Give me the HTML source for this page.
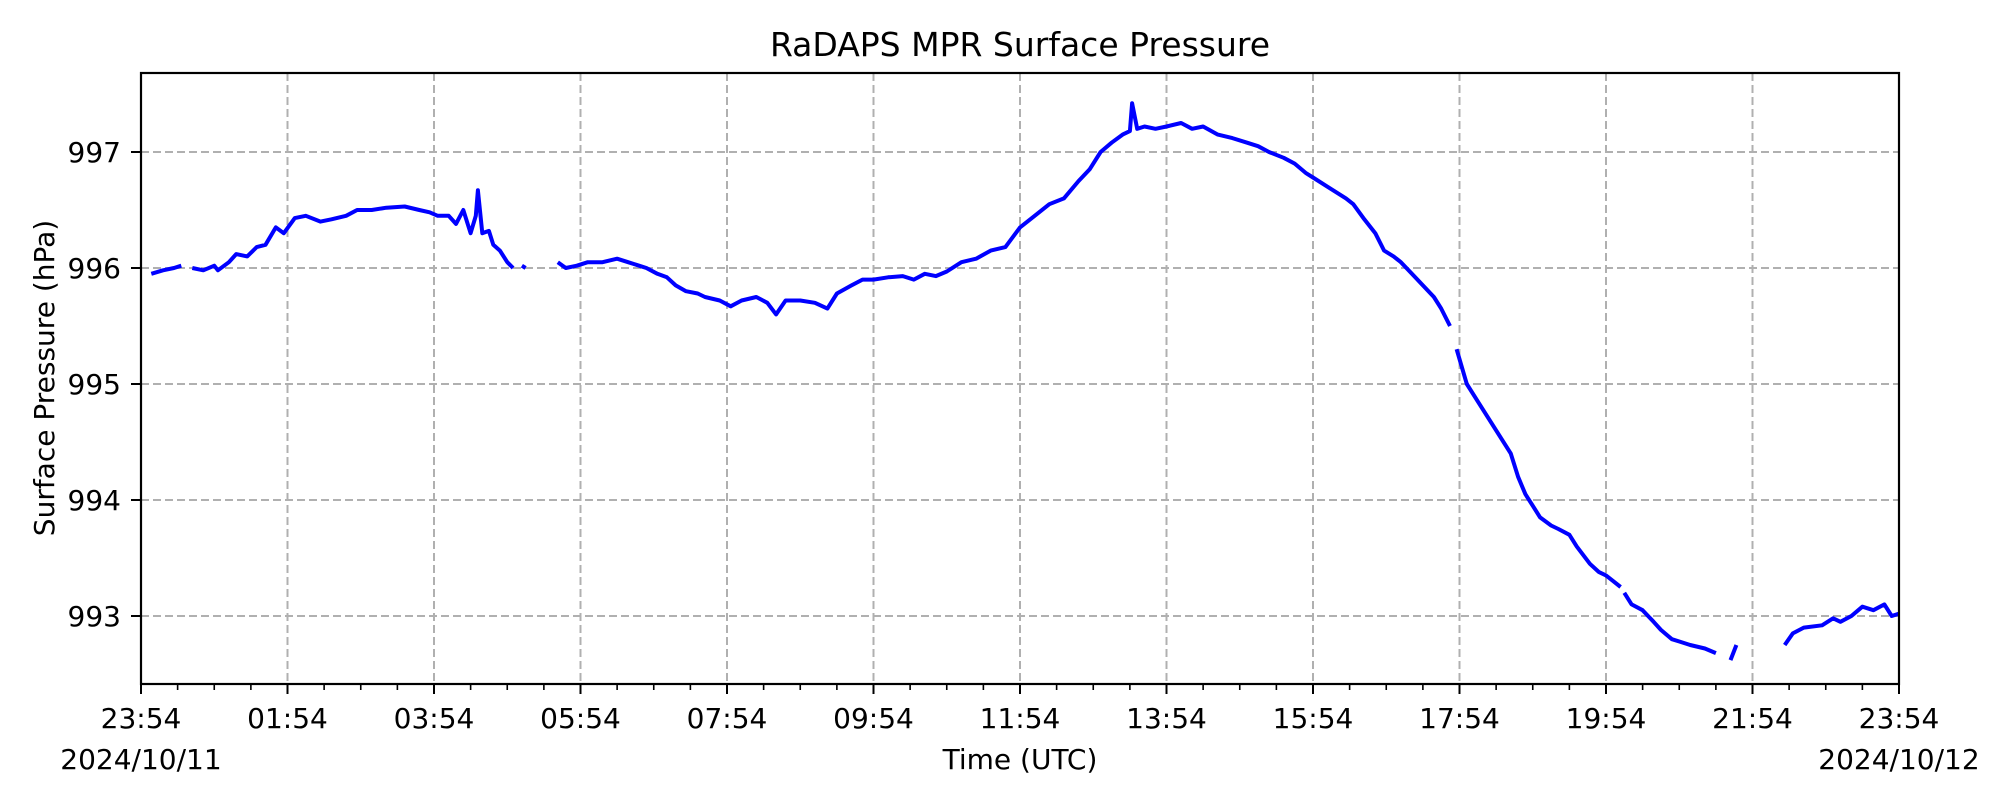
<!DOCTYPE html>
<html><head><meta charset="utf-8"><style>
body{margin:0;background:#fff;}
svg{display:block;font-family:"DejaVu Sans","Liberation Sans",sans-serif;}
</style></head><body>
<svg id="chart" width="2000" height="800" viewBox="0 0 2000 800" xmlns="http://www.w3.org/2000/svg">
<rect x="0" y="0" width="2000" height="800" fill="#fff"/>
<text x="1020" y="56" font-size="33" text-anchor="middle" fill="#000">RaDAPS MPR Surface Pressure</text>
<g id="grid"></g>
<g id="series"></g>
<rect x="141" y="73" width="1758" height="611" fill="none" stroke="#000" stroke-width="2.2"/>
<g id="ticks"></g>
<text x="1020" y="769" font-size="28" text-anchor="middle">Time (UTC)</text>
<text x="141" y="769" font-size="28" text-anchor="middle">2024/10/11</text>
<text x="1899" y="769" font-size="28" text-anchor="middle">2024/10/12</text>
<text x="54" y="378" font-size="28" text-anchor="middle" transform="rotate(-90 54 378)">Surface Pressure (hPa)</text>
</svg>
<script>
const xTickLabels=["23:54","01:54","03:54","05:54","07:54","09:54","11:54","13:54","15:54","17:54","19:54","21:54","23:54"];
const yTicks=[993,994,995,996,997];
// hours since 23:54 ; null = gap
const hours=[0.14,0.3,0.45,0.55,null,0.7,0.85,1.0,1.05,1.2,1.3,1.45,1.58,1.7,1.84,1.95,2.1,2.25,2.45,2.6,2.8,2.95,3.15,3.35,3.6,3.8,3.94,4.05,4.2,4.3,4.4,4.5,4.57,4.6,4.66,4.75,4.81,4.9,5.0,5.08,null,5.2,5.25,null,5.69,5.8,5.95,6.1,6.3,6.5,6.65,6.8,6.9,7.05,7.18,7.3,7.44,7.6,7.7,7.9,8.05,8.2,8.4,8.55,8.67,8.8,9.0,9.2,9.37,9.5,9.7,9.85,10.0,10.2,10.4,10.55,10.7,10.85,11.0,11.2,11.4,11.6,11.8,12.0,12.2,12.4,12.6,12.8,12.95,13.1,13.25,13.4,13.5,13.53,13.6,13.7,13.85,14.0,14.2,14.35,14.5,14.7,14.9,15.1,15.25,15.4,15.6,15.75,15.9,16.0,16.2,16.45,16.55,16.7,16.85,16.97,17.1,17.2,17.35,17.5,17.65,17.75,17.87,null,17.96,18.1,18.25,18.4,18.55,18.7,18.8,18.9,19.0,19.1,19.25,19.35,19.5,19.6,19.78,19.9,20.0,20.1,20.2,null,20.25,20.35,20.5,20.65,20.75,20.9,21.0,21.15,21.35,21.5,null,21.7,21.78,null,22.44,22.55,22.7,22.95,23.1,23.2,23.35,23.5,23.65,23.8,23.9,24.0];
const pressure=[995.95,995.98,996.0,996.02,null,996.0,995.98,996.02,995.98,996.05,996.12,996.1,996.18,996.2,996.35,996.3,996.43,996.45,996.4,996.42,996.45,996.5,996.5,996.52,996.53,996.5,996.48,996.45,996.45,996.38,996.5,996.3,996.45,996.67,996.3,996.32,996.2,996.15,996.05,996.0,null,996.02,996.0,null,996.05,996.0,996.02,996.05,996.05,996.08,996.05,996.02,996.0,995.95,995.92,995.85,995.8,995.78,995.75,995.72,995.67,995.72,995.75,995.7,995.6,995.72,995.72,995.7,995.65,995.78,995.85,995.9,995.9,995.92,995.93,995.9,995.95,995.93,995.97,996.05,996.08,996.15,996.18,996.35,996.45,996.55,996.6,996.75,996.85,997.0,997.08,997.15,997.18,997.42,997.2,997.22,997.2,997.22,997.25,997.2,997.22,997.15,997.12,997.08,997.05,997.0,996.95,996.9,996.82,996.78,996.7,996.6,996.55,996.42,996.3,996.15,996.1,996.05,995.95,995.85,995.75,995.65,995.5,null,995.3,995.0,994.85,994.7,994.55,994.4,994.2,994.05,993.95,993.85,993.78,993.75,993.7,993.6,993.45,993.38,993.35,993.3,993.25,null,993.2,993.1,993.05,992.95,992.88,992.8,992.78,992.75,992.72,992.68,null,992.62,992.75,null,992.75,992.85,992.9,992.92,992.98,992.95,993.0,993.08,993.05,993.1,993.0,993.02];
const NS="http://www.w3.org/2000/svg";
const X0=141,X1=1899,Y0=73,Y1=684;
function xs(h){return X0+(X1-X0)*h/24;}
function ys(p){return 152+(997-p)*116;}
function mk(tag,attrs,parent){const e=document.createElementNS(NS,tag);for(const k in attrs)e.setAttribute(k,attrs[k]);parent.appendChild(e);return e;}
const grid=document.getElementById('grid'),ticks=document.getElementById('ticks'),series=document.getElementById('series');
xTickLabels.forEach((lab,i)=>{
  const x=xs(i*2);
  if(i>0&&i<12){const g=mk('line',{x1:x,x2:x,y1:Y0,y2:Y1,stroke:'#b0b0b0','stroke-width':2,'stroke-dasharray':'8,4'},grid);
  
  }
  const t=mk('line',{x1:x,x2:x,y1:Y1,y2:Y1+10,stroke:'#000','stroke-width':2},ticks);
  
  
  const tx=mk('text',{x:x,y:728,'font-size':28,'text-anchor':'middle'},ticks);tx.textContent=lab;
  
  
});
for(let h=0.5;h<24;h+=0.5){if(Math.abs(h/2-Math.round(h/2))<1e-6)continue;const x=xs(h);
  const m=mk('line',{x1:x,x2:x,y1:Y1,y2:Y1+6,stroke:'#000','stroke-width':1.6},ticks);
  
  }
yTicks.forEach(v=>{const y=ys(v);
  const g=mk('line',{x1:X0,x2:X1,y1:y,y2:y,stroke:'#b0b0b0','stroke-width':2,'stroke-dasharray':'8,4'},grid);
  
  
  const t=mk('line',{x1:X0-10,x2:X0,y1:y,y2:y,stroke:'#000','stroke-width':2},ticks);
  
  
  const tx=mk('text',{x:X0-20,y:y+10,'font-size':28,'text-anchor':'end'},ticks);tx.textContent=v;
  
  
});
let d='',pen=false;
for(let i=0;i<hours.length;i++){
  if(hours[i]===null||pressure[i]===null){pen=false;continue;}
  d+=(pen?'L':'M')+xs(hours[i]).toFixed(1)+','+ys(pressure[i]).toFixed(1);pen=true;
}
const line=mk('path',{d:d,fill:'none',stroke:'#0000ff','stroke-width':4,'stroke-linejoin':'round'},series);


</script>
</body></html>
